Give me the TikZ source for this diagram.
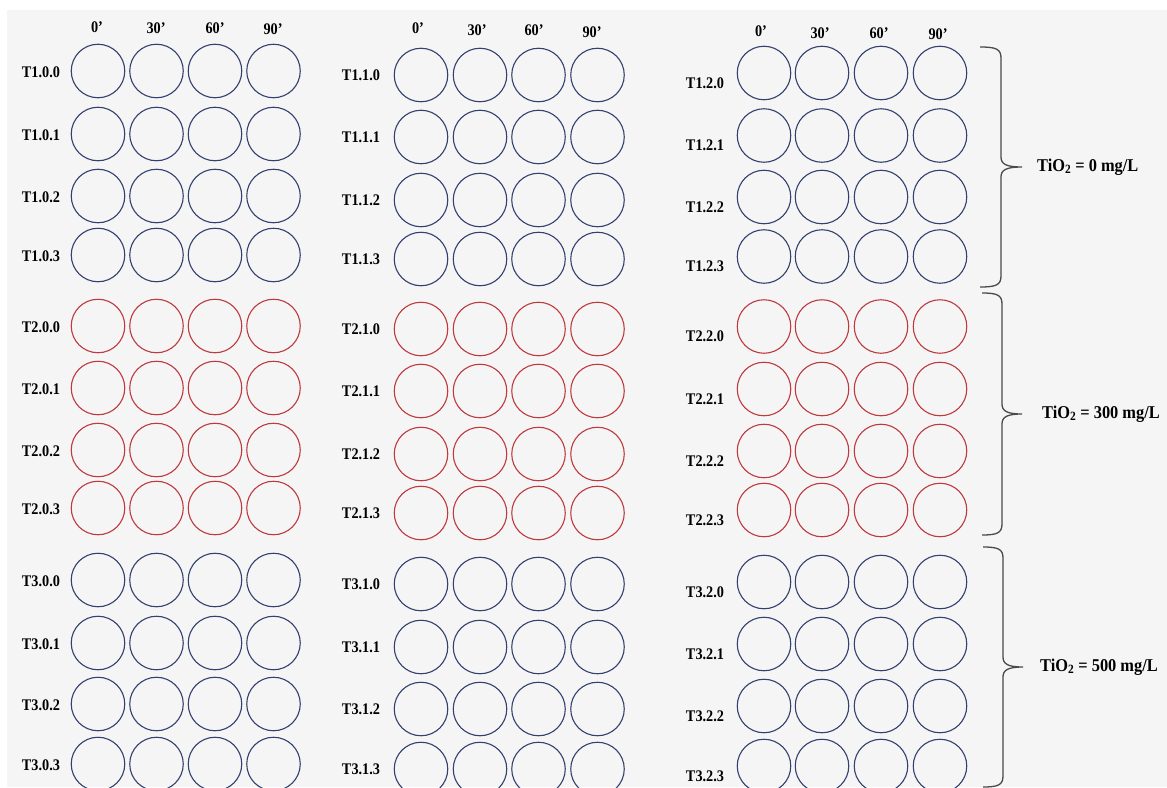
\documentclass[tikz,border=0pt]{standalone}
\usepackage{fontspec}
\setmainfont{Liberation Serif}
\definecolor{bg}{HTML}{F5F5F5}
\definecolor{wellblue}{HTML}{34406E}
\definecolor{wellred}{HTML}{BD3A3F}
\definecolor{bracegray}{HTML}{4A4A4A}
\begin{document}
\begin{tikzpicture}[x=1pt,y=-1pt,
  well/.style={circle,draw,line width=1.1pt,minimum size=53.5pt,inner sep=0pt},
  rowlabel/.style={font=\fontsize{16.2}{18}\selectfont\bfseries,xscale=0.88,inner sep=0pt},
  timelabel/.style={font=\fontsize{16.2}{18}\selectfont\bfseries,xscale=0.88,inner sep=0pt},
  grouplabel/.style={font=\fontsize{18}{20}\selectfont\bfseries,xscale=0.91,anchor=west,inner sep=0pt},
  bracepath/.style={draw=bracegray,line width=1.3pt}]
\useasboundingbox (0,0) rectangle (1167,787);
\fill[bg] (7,10) rectangle (1167,787);

% time headers
\foreach \t/\x/\y [count=\k] in {0/97/27,30/156/28,60/215/28,90/273/29}
  \node[timelabel] (H0-\k) at (\x,\y) {\t’};
\foreach \t/\x/\y [count=\k] in {0/418/28,30/477/30,60/534/30,90/592/32}
  \node[timelabel] (H1-\k) at (\x,\y) {\t’};
\foreach \t/\x/\y [count=\k] in {0/761/31,30/820/33,60/879/33,90/938/34}
  \node[timelabel] (H2-\k) at (\x,\y) {\t’};

% block 0
\foreach \g/\r/\y/\c in {1/0/71/wellblue,1/1/134/wellblue,1/2/196/wellblue,1/3/255/wellblue,
  2/0/326/wellred,2/1/388/wellred,2/2/450/wellred,2/3/508/wellred,
  3/0/580/wellblue,3/1/643/wellblue,3/2/704/wellblue,3/3/764/wellblue}{
  \node[rowlabel] (L\g-0-\r) at (41,\y+1) {T\g.0.\r};
  \foreach \x [count=\k] in {98,156.5,215,273.5}
    \node[well,draw=\c] (W\g-0-\r-\k) at (\x,\y) {};
}
% block 1
\foreach \g/\r/\y/\c in {1/0/75/wellblue,1/1/137/wellblue,1/2/200/wellblue,1/3/259/wellblue,
  2/0/329/wellred,2/1/391/wellred,2/2/454/wellred,2/3/513/wellred,
  3/0/584/wellblue,3/1/647/wellblue,3/2/709/wellblue,3/3/769/wellblue}{
  \node[rowlabel] (L\g-1-\r) at (361,\y) {T\g.1.\r};
  \foreach \x [count=\k] in {421,480,538.5,597.5}
    \node[well,draw=\c] (W\g-1-\r-\k) at (\x,\y) {};
}
% block 2
\foreach \g/\r/\y/\c in {1/0/73/wellblue,1/1/135.5/wellblue,1/2/197/wellblue,1/3/256.5/wellblue,
  2/0/326.5/wellred,2/1/389/wellred,2/2/451/wellred,2/3/510/wellred,
  3/0/582/wellblue,3/1/644/wellblue,3/2/706/wellblue,3/3/766/wellblue}{
  \node[rowlabel] (L\g-2-\r) at (705,\y+10) {T\g.2.\r};
  \foreach \x [count=\k] in {764,822,881,940}
    \node[well,draw=\c] (W\g-2-\r-\k) at (\x,\y) {};
}

% group labels
\node[grouplabel] (G1) at (1037,167) {TiO\textsubscript{2} = 0 mg/L};
\node[grouplabel] (G2) at (1042,414) {TiO\textsubscript{2} = 300 mg/L};
\node[grouplabel] (G3) at (1040,667) {TiO\textsubscript{2} = 500 mg/L};

% braces
\draw[bracepath] (980,47) .. controls (996,47) and (1001,49) .. (1001,58) -- (1001,157)
  .. controls (1001,164) and (1006,167) .. (1022,167)
  .. controls (1006,167) and (1001,170) .. (1001,177) -- (1001,276)
  .. controls (1001,285) and (996,287) .. (980,287);
\draw[bracepath] (982,293) .. controls (997,293) and (1002,295) .. (1002,304) -- (1002,404)
  .. controls (1002,411) and (1007,414) .. (1022,414)
  .. controls (1007,414) and (1002,417) .. (1002,424) -- (1002,524)
  .. controls (1002,533) and (997,535) .. (982,535);
\draw[bracepath] (983,547) .. controls (998,547) and (1003,549) .. (1003,558) -- (1003,657)
  .. controls (1003,664) and (1008,667) .. (1023,667)
  .. controls (1008,667) and (1003,670) .. (1003,677) -- (1003,776)
  .. controls (1003,785) and (998,787) .. (983,787);
\end{tikzpicture}
\end{document}
